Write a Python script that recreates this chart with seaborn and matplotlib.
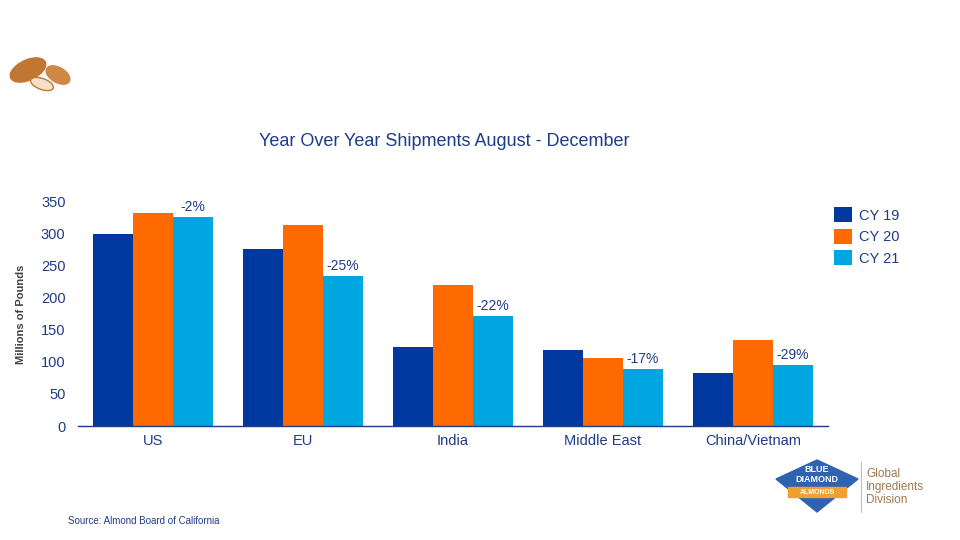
import matplotlib
matplotlib.use("Agg")
import matplotlib.pyplot as plt
import seaborn as sns
import pandas as pd
from matplotlib.patches import Ellipse, Polygon, Rectangle

# ---- data ----
regions = ["US", "EU", "India", "Middle East", "China/Vietnam"]
cy19 = [300, 276, 123, 119, 83]
cy20 = [332, 314, 220, 106, 134]
cy21 = [326, 234, 172, 89, 95]
pct_labels = ["-2%", "-25%", "-22%", "-17%", "-29%"]
series_names = ["CY 19", "CY 20", "CY 21"]
y_ticks = [0, 50, 100, 150, 200, 250, 300, 350]

colors = ["#0038A0", "#FF6A00", "#00A6E0"]
navy = "#1F3C88"

rows = []
for name, vals in zip(series_names, [cy19, cy20, cy21]):
    for r, v in zip(regions, vals):
        rows.append({"Region": r, "Series": name, "Value": v})
df = pd.DataFrame(rows)

sns.set_style("white")
plt.rcParams["font.family"] = ["Liberation Sans", "DejaVu Sans"]

fig = plt.figure(figsize=(9.6, 5.4), dpi=100)
ax = fig.add_axes([78/960, 1-426/540, 750/960, (426-201.7)/540])

sns.barplot(data=df, x="Region", y="Value", hue="Series", order=regions,
            hue_order=series_names, palette=colors, width=0.8, saturation=1,
            linewidth=0, edgecolor="none", ax=ax, legend=True)

ax.set_ylim(0, 350)
ax.set_xlim(-0.5, 4.5)
ax.set_yticks(y_ticks)
ax.tick_params(axis="both", length=0, colors=navy, labelsize=10.5)
ax.tick_params(axis="y", pad=9)
ax.tick_params(axis="x", pad=6)
for lab in ax.get_xticklabels() + ax.get_yticklabels():
    lab.set_color(navy)
ax.set_xlabel("")
ax.set_ylabel("Millions of Pounds", fontsize=8, fontweight="bold", color="#404040", labelpad=11)
for s in ["top", "right", "left"]:
    ax.spines[s].set_visible(False)
ax.spines["bottom"].set_color(navy)
ax.spines["bottom"].set_linewidth(1.0)

# percent labels on CY 21 bars
ax.bar_label(ax.containers[2], labels=pct_labels, padding=2, fontsize=10, color=navy)

# legend
handles, labels = ax.get_legend_handles_labels()
ax.legend(handles, labels, loc="upper left", bbox_to_anchor=(821/960, 1-194/540),
          bbox_transform=fig.transFigure, frameon=False, fontsize=10.5,
          handlelength=1.2, handleheight=1.2, handletextpad=0.5, labelspacing=0.42,
          labelcolor=navy)

# title
fig.text(444/960, 1-141/540, "Year Over Year Shipments August - December",
         ha="center", va="center", fontsize=13, color=navy)

# source
fig.text(68/960, 1-521/540, "Source: Almond Board of California",
         ha="left", va="center", fontsize=7, color=navy)

# almonds decoration
axa = fig.add_axes([0/960, 1-100/540, 90/960, 60/540])
axa.set_xlim(0, 90); axa.set_ylim(60, 0); axa.axis("off")
axa.add_patch(Ellipse((58, 35), 26, 15, angle=30, color="#CF8744"))
axa.add_patch(Ellipse((28, 30), 38, 20, angle=-25, color="#C27634"))
axa.add_patch(Ellipse((42, 44), 24, 11, angle=20, color="#F3E0C6", ec="#C27634", lw=1))

# logo
axl = fig.add_axes([770/960, 1-520/540, 190/960, 70/540])
axl.set_xlim(0, 190); axl.set_ylim(70, 0); axl.axis("off")
axl.add_patch(Polygon([[47, 10], [88, 29], [47, 62], [6, 29]], closed=True, color="#2F62B0"))
axl.add_patch(Rectangle((18, 37), 58, 10, color="#F0A030"))
axl.text(47, 19, "BLUE", ha="center", va="center", fontsize=6.5, color="white",
         fontweight="bold")
axl.text(47, 29, "DIAMOND", ha="center", va="center", fontsize=6.5, color="white",
         fontweight="bold")
axl.text(47, 42.5, "ALMONDS", ha="center", va="center", fontsize=5, color="white", fontweight="bold")
axl.plot([91, 91], [12, 62], color="#D8B89A", lw=0.8)
axl.text(96, 37, "Global\nIngredients\nDivision", ha="left", va="center", fontsize=8.5,
         color="#A07850", linespacing=1.1)

fig.savefig("out.png", dpi=100)
